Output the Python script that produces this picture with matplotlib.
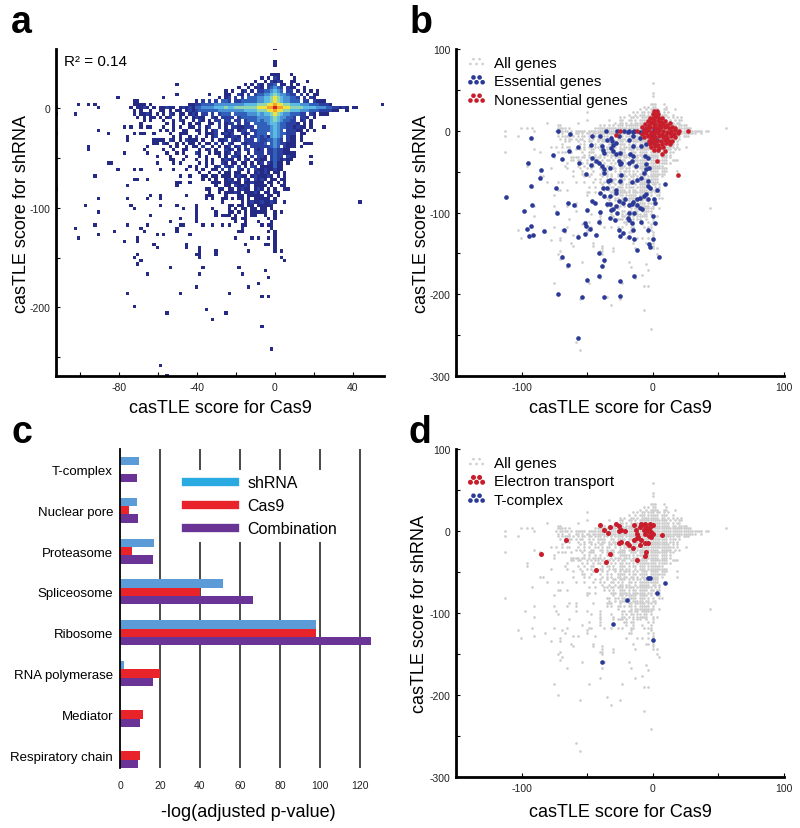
import numpy as np
import matplotlib
matplotlib.use("Agg")
import matplotlib.pyplot as plt
from matplotlib.colors import ListedColormap
from matplotlib.lines import Line2D

plt.rcParams['font.family'] = ['Liberation Sans', 'DejaVu Sans']

# ---- panel a: binned casTLE scores (density level 1-9 per bin)
BIN_W, BIN_H = 1.68, 3.27
# core block: column 44 / row 14 is the (0, 0) bin; groups of 10 columns
CORE_ROWS = [
    ".......... .......... .......... .......... ....1.....",
    ".......... .......... .......... .......... ....1.....",
    "",
    "",
    ".......... .......... .......... .......... ...111...1",
    ".......... .......... .......... .......... 1.1.21.... 1",
    ".......... .......... .......... ........1. .1.2121..1 1...1",
    ".......... ....1..... .......... .....1.1.2 1.223.11.1 .1",
    ".......... .......... .......... ...1..1.12 1.23432.21 1..1",
    ".......... .......... .........1 .1..12.1.2 2334543.22 .1.1.1.1",
    ".......... ....1..... ....1....1 1..21.2.23 3445654432 2.2.1.11",
    ".......... 1......... .......1.1 2.2.2.3334 4556765443 32.2.21",
    ".11....... .......... 1.2.2.2.33 2.22333334 4556765443 33.22.2111",
    ".111..1... ........11 2233334444 4444455556 6677877665 5544433322 21",
    "1.1121.1.1 1211.12121 3344445556 5566666667 7788988776 6665555444 3322121.11",
    ".1.1..1..1 1.1.11.121 2333333444 4444455556 6677877665 5544433322 2211..1",
    ".1.1121.1. 1.21.11.12 1.22.2.233 3.33334445 4556765443 3322.21.11 1",
    "..1.1.11.1 .12..1.1.1 211..21.22 22.2333334 4445654433 2.221.1...",
    "....1.1... 1..1.21..1 .21.1.22.2 2.22.23334 3445654332 2.12.1....",
    "...1...... .1.1..1.1. 11..11.2.1 22.2.22.33 3345543322 21.1.1",
    "1..1.11... 1..1.1..11 .2.12..2.1 .2211222.3 3334543322 1211.1",
    ".........1 .1.1..11.. 11.1.12..1 21.122.223 3334543.22 211.1.1",
    ".1.11..1.. ..1..111.. .1.1112.12 12..212.23 33.4543322 2.11",
    ".......... ...1.1..1. 2..1.12..1 1221.1.223 2314543.21 1.1",
    ".......111 1.21.1.211 1.1..1.112 .212.222.3 2233432.21 1.1",
    ".......11. 21..1.1.11 .1.11.2.1. 21..212222 23.3432211 1..11",
    ".....1.... ..1.1..1.1 1.2..1.1.1 2.12.2.222 222343.211 1.1",
    "....1..... 1..1..11.. .1.12.1..2 12.1.22.21 2.2232211.",
    ".......... .1..1.1... 21..1.11.1 2.12..1.22 2.22322111 1",
    "........1. ..1....1.. .1.1...1.1 .221.1.2.2 21.2322.21 1....1",
    ".......... ..11..1... 1..1.1..12 11.1.21.12 11.2321211",
    "........1. ...1.1.... .1.1.1..21 .11.11.1.1 2.21311.1.",
    ".......... ........1. 1..1..12.2 12.2.1.22. 1111311...",
    ".1.1.....1 ...1...1.. 1.1..11.2. 2..21.2.21 1211211...",
    ".......... .......... .1..1..1.1 1.11..1.12 121.11.1..",
    ".......... .....1..1. ..11.11.11 1.1211.121 1121.1.1..",
    ".......... .......... ..1.1.1..1 21.1.21.21 21.11.11..",
    ".......... ....11..1. .....111.1 1211.11211 1.11.1.1..",
    ".......... ....1..... ......1..1 1.21121.11 11.1..11..",
    ".......... .......... ...11..11. 11.1211.12 1.1.1..1..",
    ".......... .......... ....1..1.1 1121.11121 .11.11....",
    "......1..1 .......1.. ...111...1 ...11.1111 1.11.1....",
    ".....1...1 .......... ...1.1..11 .1.11.1.11 111.1.....",
    ".......... .......... ........1. ....1.1211 21121..1..",
    "1........1 ....1..... 1......... 11.11.11.1 1111......",
    ".......... ......1... 1....1.... 1.1.11.11. 11.1......",
    ".......... .......... 1.....1... 11.1.1.111 11..1.1...",
    "......1... .......... 1.....1.11 1.1..1.11. .1..1.....",
    ".......... .....1.... 1......... .11.11.... ..1.1.....",
    ".......... ..1....... 1......... ..1..1...1 ...1......",
    ".....1.... .....11... ..1..1..1. 1...11.... 1.11......",
    "...1...... ....1..... .......... ....1..... ...1......",
    ".......... ....1..... .......... ...11..... ..1.1.....",
    "........1. 1.......1. .......... .......... ....1.....",
    "..1....... .......... .......... ..1....1.1 ..1.1.....",
    ".......... .......... .......... .......... ....1.....",
    ".......1.. .......1.. .......... .....1.... .11.1.....",
    ".......... .......... .1........ .......... ....1.....",
    ".......... .......... ......1... ......1... ....1.1...",
    "..1....... .......... 11........ .......... ..........",
    ".......... .......... .......... .......... ......1...",
    "...1......",
]
# isolated single-gene bins outside the core block (Cas9 score, shRNA score)
SPARSE_BINS = [
    (-112, 0), (-112, -8), (-112, -25), (-112, -81), (-103, -7), (-100, 2),
    (-96, 3), (-93, 3), (-90, 0), (-81, 10), (-70, 6), (-68, 3),
    (-91, -24), (-85, -27), (-78, -20), (-76, -28), (-75, -34), (-95, -40),
    (-95, -44), (-78, -47), (-66, -47), (-86, -57), (-84, -57), (-81, -61),
    (-93, -68), (-73, -71), (-70, -71), (-65, -73), (-76, -77), (-91, -91),
    (-76, -91), (-98, -97), (-73, -101), (-90, -106), (-76, -117), (-93, -118),
    (-102, -121), (-83, -123), (-68, -123), (-90, -127), (-100, -131),
    (-78, -134), (-70, -134), (-61, -140), (-46, -140), (-72, -151), (-70, -157),
    (-53, -161), (-65, -168), (-39, -144), (-39, -151), (-37, -161), (-39, -168),
    (-31, -147), (-19, -161), (-17, -168), (-14, -181), (-9, -178), (-5, -164),
    (-4, -171), (5, -154), (-7, -191), (-4, -191), (-76, -188), (-72, -201),
    (-49, -185), (-41, -181), (-55, -205), (-36, -204), (-32, -211), (-25, -205),
    (-24, -188), (-7, -218), (-2.5, -242), (-58, -258), (-55, -268),
    (0, 60), (55, 2), (43, -94), (19, -54), (25, -20), (18, -37), (5, -74), (6, -83),
]
LEVEL_COLORS = ['#252b85', '#2a3f9f', '#3160bb', '#4a90d4', '#5cbbe2',
                '#8fd6b0', '#efe23e', '#f5a02e', '#d6221c']

# ---- panel b: essential / nonessential reference genes
ESS_X = [-72, -93, -63, -112, -95, -85, -86, -93, -76, -69, -74, -98, -92, -73, -96, -93,
         -94, -91, -83, -68, -64, -57, -56, -65, -60, -50, -52, -51, -48, -57, -52, -69,
         -65, -72, -54, -50, -41, -41, -37, -39, -37, -25, -25, -57, -47, -46, -47, -43,
         -41, -39, -38, -36, -37, -38, -35, -33, -39, -37, -33, -46, -44, -40, -41, -43,
         -35, -33, -34, -32, -31, -30, -28, -26, -27, -25, -24, -26, -24, -25, -28, -28,
         -30, -32, -33, -29, -27, -26, -23, -21, -26, -25, -23, -19, -18, -18, -18, -16,
         -15, -14, -12, -14, -15, -18, -15, -14, -10, -10, -9, -15, -16, -13, -16, -12,
         -9, -5, -5, -3, -6, -4, -7, -4, -4, -2, -5, -4, -7, -10, -12, -15, -12, -10,
         -8, -16, -18, -14, -9, -4, -3, -2, 0, 0, 2, 1, 2, 3, 9, 5, 0, 0, -2, -5, 1, 3,
         -7, -4, 1, -15, -19, -22, -18, -40, -35, -32, -30, -28, -37, -28, -40, -37,
         -33, -25, -18, -17, -51, -46]
ESS_Y = [0, -9, -4, -81, -39, -48, -58, -68, -30, -35, -70, -98, -91, -100, -120, -116,
         -129, -127, -123, -122, -25, -20, -39, -88, -91, -97, -113, -117, -120, -130, -126, -154,
         -164, -200, -203, -183, -178, -150, -158, -165, -203, -184, -202, -253, -17, -33, -42, -37,
         -39, -19, -23, 0, -52, -70, -70, -60, -43, -47, -46, -86, -88, -99, -111, -127,
         -89, -89, -62, -21, -13, -25, -28, -7, 0, -27, -39, -37, -54, -62, -76, -92,
         -96, -97, -107, -109, -100, -86, -88, -83, -121, -129, -125, -107, -100, -109, -130, -113,
         -121, -133, -146, -178, -19, -11, -7, 0, -1, -9, -19, -31, -37, -43, -63, -60,
         -58, -41, -47, -46, -31, -33, -52, -62, -68, -70, -77, -83, -80, -82, -84, -87, -91, -94,
         -96, -90, -91, -100, -111, -121, -138, -142, -132, -104, -113, -84, -88, -73, -65, -154, -1, -7, -13, -16, -15, -11,
         1, 3, 2, -1, -1, 0, 0, -7, -11, -9, -17, -15, -27, -72, -76, -80,
         -80, -41, -40, -29, -53, -7]
NON_X = [1, 3, 0, 2, 4, -2, 0, 3, 5, 7, -4, -1, 1, 4, 6, 9, -6, -3, 0, 2, 5, 8, 11, 13,
         -8, -5, -2, 1, 3, 6, 9, 12, 15, 17, -28, -25, -12, -7, -4, -1, 2, 5, 8, 11, 14, 17,
         20, 27, -8, -5, -2, 1, 4, 7, 10, 13, 16, 19, -7, -4, -1, 2, 5, 8, 11, 14, 17, -3,
         0, 3, 6, 9, 12, 15, -2, 1, 4, 7, 10, 13, -1, 2, 5, 8, 1, 4, 9, 7, 3, 19]
NON_Y = [24, 24, 20, 19, 21, 16, 15, 17, 15, 16, 12, 11, 13, 12, 11, 12, 8, 7, 9, 8, 7, 8, 7, 9,
         4, 3, 5, 4, 3, 4, 5, 3, 4, 3, -5, 0, 0, 0, 1, -1, 0, 1, 0, -1, 0, 1,
         0, 0, -4, -3, -5, -4, -3, -4, -5, -3, -4, -3, -8, -7, -9, -8, -7, -8, -9, -7, -8, -12,
         -11, -13, -12, -11, -12, -13, -16, -15, -17, -16, -15, -16, -20, -19, -21, -20, -24, -23, -25, -28, -37, -54]

# ---- panel c: enrichment of complexes
COMPLEXES = ['T-complex', 'Nuclear pore', 'Proteasome', 'Spliceosome', 'Ribosome',
             'RNA polymerase', 'Mediator', 'Respiratory chain']
SHRNA = [9.7, 8.5, 17.2, 51.3, 97.8, 2.0, 0, 0]
CAS9 = [0, 4.3, 6.2, 40.2, 98.0, 20.0, 11.3, 9.8]
COMBO = [8.3, 8.8, 16.7, 66.7, 125.3, 16.3, 10.2, 8.8]

# ---- panel d: electron transport and T-complex genes
ETC_X = [-85, -66, -43, -36, -33, -40, -37, -34, -33, -28, -26, -26, -24, -21, -26, -24,
         -20, -18, -15, -12, -10, -6, -5, -6, -4, -3, 0, 0, -2, 7, -14, -13, -12, -11,
         -10, -9, -8, -7, -6, -5, -4, -3, -12, -9, -14, -6, -2, -1, -1]
ETC_Y = [-28, -11, -47, -38, -28, 7, 1, -3, 5, 9, 6, 0, 1, 0, -15, -13,
         -15, -17, -21, -35, -17, -30, -26, -15, -15, -6, -4, 7, 5, -5, 7, 1, -4, -7,
         5, 9, 7, 1, -4, 5, 0, 2, -9, -11, -11, 9, 9, -7, -1]
TCP_X = [-4, -2, 9, 3, -20, -30, 0, -39]
TCP_Y = [-57, -57, -64, -76, -84, -114, -133, -160]

# ---------------------------------------------------------------------------
NX, NY, J0, I0 = 101, 101, 67, 18
counts = np.zeros((NY, NX))


def put(x, y, lev):
    j = int(round(x / BIN_W)) + J0
    i = int(round(-y / BIN_H)) + I0
    if 0 <= i < NY and 0 <= j < NX:
        counts[i, j] = max(counts[i, j], lev)


for r, row in enumerate(CORE_ROWS):
    for c, ch in enumerate(row.replace(' ', '')):
        if ch != '.':
            put((c - 44) * BIN_W, (14 - r) * BIN_H, int(ch))
for x, y in SPARSE_BINS:
    put(x, y, 1)

ii, jj = np.nonzero(counts)
all_x = (jj - J0) * BIN_W
all_y = (I0 - ii) * BIN_H

GRAY = '#cdcdcd'
BLUE = '#2b3a97'
RED = '#c81e2c'

fig = plt.figure(figsize=(8, 8.29), dpi=100)


def style_scatter_axes(ax):
    for s in ['top', 'right']:
        ax.spines[s].set_visible(False)
    for s in ['left', 'bottom']:
        ax.spines[s].set_linewidth(2.0)
    ax.tick_params(direction='in', length=3, width=0.8, labelsize=7.5,
                   labelcolor='#222222', pad=4)
    ax.set_ylabel('casTLE score for shRNA', fontsize=13)
    ax.set_xlabel('casTLE score for Cas9', fontsize=13)
    ax.yaxis.set_label_coords(-0.079, 0.5)


# panel a
ax_a = fig.add_axes([0.07, 0.5452, 0.41, 0.3945])
masked = np.ma.masked_equal(counts, 0)
ext = [(0 - J0) * BIN_W - BIN_W / 2, (NX - 1 - J0) * BIN_W + BIN_W / 2,
       -(NY - 1 - I0) * BIN_H - BIN_H / 2, I0 * BIN_H + BIN_H / 2]
ax_a.imshow(masked, cmap=ListedColormap(LEVEL_COLORS), vmin=0.5, vmax=9.5,
            extent=ext, origin='upper', aspect='auto', interpolation='nearest')
ax_a.set_xlim(-112.5, 56)
ax_a.set_ylim(-269, 59.5)
ax_a.set_xticks(range(-100, 41, 20))
ax_a.set_xticklabels(['', '-80', '', '-40', '', '0', '', '40'])
ax_a.set_yticks(range(-250, 1, 50))
ax_a.set_yticklabels(['', '-200', '', '-100', '', '0'])
style_scatter_axes(ax_a)
ax_a.xaxis.set_label_coords(0.5, -0.095)
ax_a.xaxis.label.set_va('center')
ax_a.text(0.024, 0.963, 'R² = 0.14', transform=ax_a.transAxes, fontsize=11, va='center')

# shared legend styling for b and d
SC_LEG = dict(loc='upper left', bbox_to_anchor=(0.03, 0.978), frameon=False, fontsize=11,
              scatterpoints=5, scatteryoffsets=[0.3, 0.75, 0.3, 0.75, 0.3],
              handlelength=1.4, handletextpad=0.45, labelspacing=0.28, borderpad=0,
              borderaxespad=0)

# panel b
ax_b = fig.add_axes([0.57, 0.5452, 0.41, 0.3945])
h_all = ax_b.scatter(all_x, all_y, s=3.6, color=GRAY, linewidths=0)
h_ess = ax_b.scatter(ESS_X, ESS_Y, s=11, color=BLUE, linewidths=0)
h_non = ax_b.scatter(NON_X, NON_Y, s=11, color=RED, linewidths=0)
ax_b.set_xlim(-150, 100)
ax_b.set_ylim(-300, 100)
ax_b.set_xticks([-150, -100, -50, 0, 50, 100])
ax_b.set_xticklabels(['', '-100', '', '0', '', '100'])
ax_b.set_yticks(range(-300, 101, 50))
ax_b.set_yticklabels(['-300', '', '-200', '', '-100', '', '0', '', '100'])
style_scatter_axes(ax_b)
ax_b.xaxis.set_label_coords(0.5, -0.095)
ax_b.xaxis.label.set_va('center')
ax_b.legend([h_all, h_ess, h_non], ['All genes', 'Essential genes', 'Nonessential genes'],
            **SC_LEG)

# panel c
ax_c = fig.add_axes([0.15, 0.0724, 0.32, 0.3848])
pos = np.arange(len(COMPLEXES))
bh = 0.205
ax_c.barh(pos - bh, SHRNA, height=bh, color='#5b9bd8', zorder=3)
ax_c.barh(pos, CAS9, height=bh, color='#e8232a', zorder=3)
ax_c.barh(pos + bh, COMBO, height=bh, color='#6a3496', zorder=3)
ax_c.set_ylim(7.31, -0.5)
ax_c.set_xlim(0, 128)
ax_c.set_yticks(pos)
ax_c.set_yticklabels(COMPLEXES, fontsize=9.5)
ax_c.set_xticks(range(0, 121, 20))
ax_c.tick_params(axis='x', length=0, labelsize=7.5, pad=9, labelcolor='#222222')
ax_c.tick_params(axis='y', length=0, pad=5)
for s in ['top', 'right', 'bottom']:
    ax_c.spines[s].set_visible(False)
ax_c.spines['left'].set_linewidth(1.3)
ax_c.spines['left'].set_zorder(4)
for v in range(20, 121, 20):
    ax_c.axvline(v, color='#2a2a2a', lw=1.2, zorder=1)
ax_c.set_xlabel('-log(adjusted p-value)', fontsize=13)
ax_c.xaxis.set_label_coords(0.5, -0.135)
ax_c.xaxis.label.set_va('center')
leg_handles = [Line2D([], [], color='#29abe2', lw=6),
               Line2D([], [], color='#e8232a', lw=6),
               Line2D([], [], color='#6a3496', lw=6)]
leg = ax_c.legend(leg_handles, ['shRNA', 'Cas9', 'Combination'], loc='upper left',
                  bbox_to_anchor=(0.235, 0.935), fontsize=11.5, frameon=True, fancybox=False,
                  edgecolor='none', facecolor='white', framealpha=1, borderpad=0.35,
                  handlelength=3.1, handletextpad=0.75, labelspacing=0.5, borderaxespad=0)
leg.set_zorder(5)

# panel d
ax_d = fig.add_axes([0.57, 0.0615, 0.41, 0.3957])
h_all_d = ax_d.scatter(all_x, all_y, s=3.6, color=GRAY, linewidths=0)
h_etc = ax_d.scatter(ETC_X, ETC_Y, s=13, color=RED, linewidths=0)
h_tcp = ax_d.scatter(TCP_X, TCP_Y, s=11, color=BLUE, linewidths=0)
ax_d.set_xlim(-150, 100)
ax_d.set_ylim(-300, 100)
ax_d.set_xticks([-150, -100, -50, 0, 50, 100])
ax_d.set_xticklabels(['', '-100', '', '0', '', '100'])
ax_d.set_yticks(range(-300, 101, 50))
ax_d.set_yticklabels(['-300', '', '-200', '', '-100', '', '0', '', '100'])
style_scatter_axes(ax_d)
ax_d.yaxis.set_label_coords(-0.085, 0.5)
ax_d.xaxis.set_label_coords(0.5, -0.104)
ax_d.xaxis.label.set_va('center')
ax_d.legend([h_all_d, h_etc, h_tcp], ['All genes', 'Electron transport', 'T-complex'],
            **SC_LEG)

# panel letters
for lab, x, y in [('a', 0.014, 1 - 33 / 829), ('b', 0.512, 1 - 33 / 829),
                  ('c', 0.014, 1 - 443 / 829), ('d', 0.51, 1 - 443 / 829)]:
    fig.text(x, y, lab, fontsize=27, fontweight='bold', va='baseline')

fig.savefig('out.png', dpi=100)
